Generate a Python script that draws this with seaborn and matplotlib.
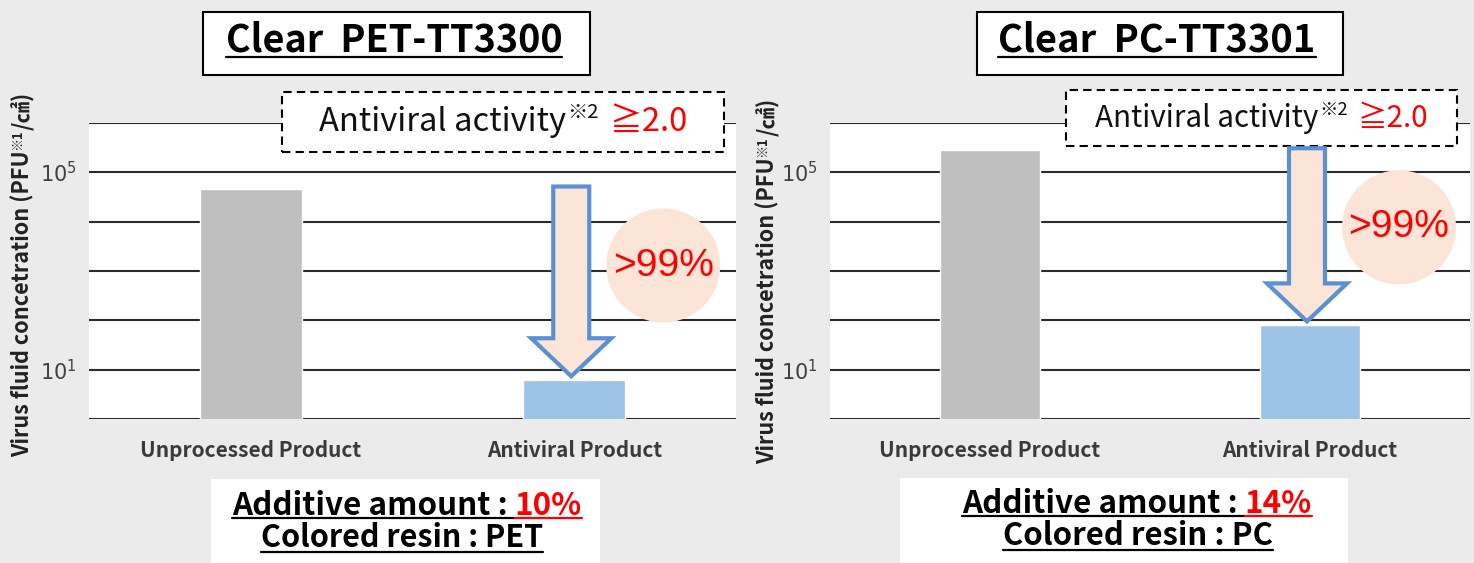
import pandas as pd
import matplotlib
matplotlib.use('Agg')
import matplotlib.pyplot as plt
import seaborn as sns
from matplotlib.patches import Rectangle, Circle, Polygon
from matplotlib.lines import Line2D
from matplotlib.ticker import NullLocator
from matplotlib.transforms import IdentityTransform

# chart data
categories = ['Unprocessed Product', 'Antiviral Product']
pet_values = [4.7e4, 6.1]
pc_values = [2.8e5, 79]
titles = ['Clear  PET-TT3300', 'Clear  PC-TT3301']
additive_amounts = ['10%', '14%']
resins = ['PET', 'PC']
reduction_label = '>99%'
activity_value = '≧2.0'
ylabel_text = ['Virus fluid concetration (PFU', '※1', '/㎠)']

W, H = 1474, 563
BG = '#ebebeb'
BAR_COLORS = ['#bfbfbf', '#9dc3e6']
ARROW_EDGE = '#5b8fd6'
SOFT = '#fbe5d6'
RED = '#ff0000'
JP = ['Noto Sans CJK JP', 'DejaVu Sans']
PX = IdentityTransform()

sns.set_theme(style='white')
plt.rcParams['font.family'] = JP

fig = plt.figure(figsize=(W / 100, H / 100), dpi=100, facecolor=BG)
renderer = fig.canvas.get_renderer()


def Y(y):
    # pixel row from the top -> display y
    return H - y


def measure(s, rotation=0, **kw):
    t = fig.text(0, 0, s, transform=PX, rotation=rotation, **kw)
    bb = t.get_window_extent(renderer)
    t.remove()
    return bb.height if rotation else bb.width


def fit(s, target, base=20, **kw):
    return base * target / measure(s, fontsize=base, **kw)


def underline(x0, x1, y, color='black', lw=1.6):
    fig.add_artist(Line2D([x0, x1], [Y(y), Y(y)], transform=PX, color=color, lw=lw))


def label_line(cx, y, uy, prefix, suffix, suffix_color, target):
    full_s = prefix + ' ' + suffix
    kw = dict(fontsize=fit(full_s, target, fontweight='bold'), fontweight='bold')
    full = measure(full_s, **kw)
    w_suf = measure(suffix, **kw)
    x0 = cx - full / 2
    fig.text(x0, Y(y), prefix, transform=PX, ha='left', va='baseline', color='black', **kw)
    fig.text(x0 + full, Y(y), suffix, transform=PX, ha='right', va='baseline', color=suffix_color, **kw)
    underline(x0, x0 + full - w_suf, uy)
    underline(x0 + full - w_suf, x0 + full, uy, color=suffix_color)


def plain_line(cx, y, uy, s, target):
    size = fit(s, target, fontweight='bold')
    w = measure(s, fontsize=size, fontweight='bold')
    fig.text(cx, Y(y), s, transform=PX, ha='center', va='baseline', fontsize=size,
             fontweight='bold', color='black')
    underline(cx - w / 2, cx + w / 2, uy)


def activity_text(cx, y, target):
    def widths(size):
        return (measure('Antiviral activity', fontsize=size),
                measure('※2', fontsize=size * 0.62),
                measure(activity_value, fontsize=size),
                size * 0.45)
    size = 20 * target / sum(widths(20))
    w1, w2, w3, gap = widths(size)
    x = cx - (w1 + w2 + gap + w3) / 2
    fig.text(x, Y(y), 'Antiviral activity', transform=PX, fontsize=size, va='baseline', color='#111111')
    x += w1 + 1
    fig.text(x, Y(y) + size * 0.55, '※2', transform=PX, fontsize=size * 0.62, va='baseline', color='#111111')
    x += w2 + gap
    fig.text(x, Y(y), activity_value, transform=PX, fontsize=size, va='baseline', color=RED)


def vertical_label(xb, yc, target):
    def lengths(size):
        sizes = [size, size * 0.6, size]
        return sizes, [measure(s, rotation=90, fontsize=sz, fontweight='bold')
                       for s, sz in zip(ylabel_text, sizes)]
    _, l20 = lengths(20)
    size = 20 * target / sum(l20)
    sizes, lens = lengths(size)
    y = Y(yc) - sum(lens) / 2
    for s, sz, ln, rise in zip(ylabel_text, sizes, lens, [0, size * 0.55, 0]):
        fig.text(xb - rise, y, s, transform=PX, fontsize=sz, fontweight='bold', rotation=90,
                 rotation_mode='anchor', ha='left', va='baseline', color='#222222')
        y += ln


panels = [
    dict(values=pet_values, title=titles[0], amount=additive_amounts[0], resin=resins[0],
         ax=(89, 123, 647, 296), title_box=(203, 12, 387, 63), title_cx=394, title_w=338,
         act_box=(282, 92, 442, 60), act_w=367, act_base=131,
         bottom_box=(211, 479, 389, 84), line_cx=(407, 402), line_w=(349, 283),
         base=(515, 547), ul=(518, 552), ylab=(30, 274)),
    dict(values=pc_values, title=titles[1], amount=additive_amounts[1], resin=resins[1],
         ax=(830, 123, 640, 296), title_box=(977, 12, 366, 63), title_cx=1157, title_w=318,
         act_box=(1066, 90, 391, 56), act_w=332, act_base=127,
         bottom_box=(900, 478, 448, 85), line_cx=(1137, 1138), line_w=(349, 270),
         base=(513, 545), ul=(516, 550), ylab=(775, 281)),
]

tick_size = fit(categories[0], 221, fontweight='bold')

for p in panels:
    x, y, w, h = p['ax']
    ax = fig.add_axes([x / W, (H - y - h) / H, w / W, h / H])
    ax.set_yscale('log')
    df = pd.DataFrame({'product': categories, 'pfu': p['values']})
    sns.barplot(data=df, x='product', y='pfu', hue='product', palette=BAR_COLORS, legend=False,
                width=0.314, saturation=1, ax=ax, zorder=2)
    ax.set_ylim(1, 1e6)
    ax.set_xlim(-0.5, 1.5)
    ax.set_yticks([10 ** k for k in range(7)], ['', '$10^{1}$', '', '', '', '$10^{5}$', ''])
    ax.yaxis.set_minor_locator(NullLocator())
    ax.grid(axis='y', color='#2b2b2b', lw=1.5)
    ax.set_axisbelow(True)
    ax.set_facecolor('white')
    for s in ax.spines.values():
        s.set_visible(False)
    ax.tick_params(axis='y', length=0, labelsize=15, labelcolor='#404040', pad=9)
    ax.tick_params(axis='x', length=0, labelsize=tick_size, labelcolor='#3a3a3a', pad=15)
    for lab in ax.get_xticklabels():
        lab.set_fontweight('bold')
    ax.set_xlabel('')
    ax.set_ylabel('')

    # arrow from untreated level down to treated level
    xc, y_tail = ax.transData.transform((1, p['values'][0]))
    _, y_tip = ax.transData.transform((1, p['values'][1]))
    xc -= 3
    y_tail += 2
    y_tip += 4
    hs, hh, hl = 18, 40, 38
    pts = [(xc - hs, y_tail), (xc + hs, y_tail), (xc + hs, y_tip + hl), (xc + hh, y_tip + hl),
           (xc, y_tip), (xc - hh, y_tip + hl), (xc - hs, y_tip + hl)]
    fig.add_artist(Polygon(pts, closed=True, transform=PX, facecolor=SOFT, edgecolor=ARROW_EDGE,
                           lw=3, joinstyle='miter', zorder=3))
    ccx, ccy = xc + 92, y_tail - 79
    fig.add_artist(Circle((ccx, ccy), 57, transform=PX, facecolor='#fce4d6', edgecolor='none', zorder=3))
    fig.text(ccx, ccy, reduction_label, transform=PX, ha='center', va='center',
             fontsize=fit(reduction_label, 101, family='Liberation Sans'),
             color=RED, family='Liberation Sans', zorder=4)

    # title box
    bx, by, bw, bh = p['title_box']
    fig.add_artist(Rectangle((bx, Y(by + bh)), bw, bh, transform=PX, facecolor='white',
                             edgecolor='black', lw=1.5))
    plain_line(p['title_cx'], 52, 57, p['title'], p['title_w'])

    # dashed activity box
    bx, by, bw, bh = p['act_box']
    fig.add_artist(Rectangle((bx, Y(by + bh)), bw, bh, transform=PX, facecolor='white',
                             edgecolor='black', lw=1.5, linestyle=(0, (4, 2.5)), zorder=2))
    activity_text(bx + bw / 2, p['act_base'], p['act_w'])

    # bottom info box
    bx, by, bw, bh = p['bottom_box']
    fig.add_artist(Rectangle((bx, Y(by + bh)), bw, bh, transform=PX, facecolor='white',
                             edgecolor='none'))
    label_line(p['line_cx'][0], p['base'][0], p['ul'][0], 'Additive amount :', p['amount'], RED,
               p['line_w'][0])
    plain_line(p['line_cx'][1], p['base'][1], p['ul'][1], 'Colored resin : ' + p['resin'],
               p['line_w'][1])

    vertical_label(*p['ylab'], 365)

fig.savefig('out.png', dpi=100, facecolor=BG)
